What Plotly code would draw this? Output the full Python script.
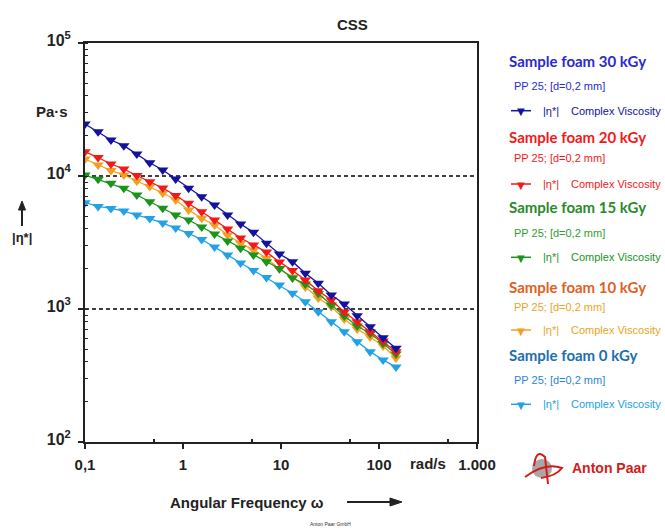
import plotly.graph_objects as go

# ---------------- data ----------------
freq = [0.1, 0.136, 0.184, 0.249, 0.338, 0.458, 0.621, 0.842, 1.14, 1.55,
        2.1, 2.85, 3.87, 5.24, 7.11, 9.64, 13.1, 17.7, 24.0, 32.6,
        44.2, 59.9, 81.3, 110, 149]

eta_30 = [24600, 21500, 18660, 16900, 14630, 12590, 11090, 9490, 8080, 6990,
          6050, 5090, 4350, 3770, 3120, 2590, 2270, 1855, 1560, 1275,
          1090, 891, 736, 609, 507]
eta_20 = [15230, 13780, 12310, 11290, 10090, 9060, 8120, 7140, 6230, 5390,
          4670, 4000, 3420, 3030, 2680, 2260, 1950, 1650, 1370, 1170,
          949, 803, 675, 575, 478]
eta_15 = [10170, 9440, 8810, 8080, 7200, 6410, 5720, 5090, 4670, 4135,
          3660, 3245, 2860, 2550, 2270, 2016, 1710, 1540, 1308, 1072,
          886, 745, 655, 550, 459]
eta_10 = [13420, 12100, 11000, 10170, 9170, 8340, 7450, 6600, 5550, 4810,
          4280, 3600, 3120, 2780, 2405, 2000, 1740, 1464, 1210, 1041,
          841, 707, 616, 527, 428]
eta_0 = [6300, 5900, 5700, 5455, 5090, 4790, 4430, 4060, 3700, 3330,
         2925, 2550, 2218, 1950, 1725, 1515, 1312, 1135, 954, 803,
         675, 568, 478, 414, 366]

series_names = ["Sample foam 30 kGy", "Sample foam 20 kGy", "Sample foam 15 kGy",
                "Sample foam 10 kGy", "Sample foam 0 kGy"]
series_values = [eta_30, eta_20, eta_15, eta_10, eta_0]
series_sub = "PP 25; [d=0,2 mm]"
series_sym = "|\u03b7*|"
series_meas = "Complex Viscosity"

x_tickvals = [0.1, 1, 10, 100, 1000]
x_ticktext = ["0,1", "1", "10", "100", "1.000"]
x_minorvals = [0.5, 5, 50, 500]
y_tickvals = [100, 1000, 10000, 100000]
y_ticktext = ["10<sup>2</sup>", "10<sup>3</sup>", "10<sup>4</sup>", "10<sup>5</sup>"]
dashed_levels = [1000, 10000]

# ---------------- styles ----------------
marker_colors = ["#12129e", "#f51818", "#1a941a", "#f0a020", "#22a2e6"]
title_colors = ["#2a2ad2", "#f51818", "#2a8a2a", "#e2601e", "#1c6eb0"]
sub_colors = ["#2a2ad2", "#f51818", "#2ea02e", "#eaa424", "#2a86d6"]

W, H = 665, 530
L, R, T, B = 85, 188, 43, 88
PW, PH = W - L - R, H - T - B


def px(x):
    return (x - L) / PW


def py(y):
    return (H - B - y) / PH


def text_ann(x, y, text, size, color, family="Liberation Sans", xanchor="center"):
    return dict(x=px(x), y=py(y), xref="paper", yref="paper", text=text, showarrow=False,
                xanchor=xanchor, yanchor="middle",
                font=dict(family=family, size=size, color=color))


def poly(points, color):
    path = "M " + " L ".join(f"{px(a)},{py(b)}" for a, b in points) + " Z"
    return dict(type="path", xref="paper", yref="paper", path=path,
                fillcolor=color, line=dict(color=color, width=1))


def seg(x0, y0, x1, y1, color, width):
    return dict(type="line", xref="paper", yref="paper", x0=px(x0), y0=py(y0),
                x1=px(x1), y1=py(y1), line=dict(color=color, width=width))


fig = go.Figure()

for lev in dashed_levels:
    fig.add_trace(go.Scatter(x=[x_tickvals[0], x_tickvals[-1]], y=[lev, lev], mode="lines",
                             line=dict(color="black", width=1.5, dash="4px,3px"),
                             showlegend=False, hoverinfo="skip"))

for name, vals, col in reversed(list(zip(series_names, series_values, marker_colors))):
    fig.add_trace(go.Scatter(x=freq, y=vals, mode="lines+markers", name=name,
                             line=dict(color=col, width=1.3),
                             marker=dict(symbol="triangle-down", size=10, color=col,
                                         line=dict(width=0)),
                             showlegend=False))

ann = []
shapes = []
legend_rows = [(60.7, 86, 110.7), (136.7, 158.3, 184), (206.7, 233.3, 257.3),
               (286.7, 307.3, 330), (355, 380, 404.3)]
for (ty, sy, my), name, tc, sc, mc in zip(legend_rows, series_names, title_colors,
                                           sub_colors, marker_colors):
    tcol = "#eaa424" if mc == "#f0a020" else mc
    ann.append(text_ann(507, ty, "<b>" + name + "</b>", 15, tc, "Lato", "left"))
    ann.append(text_ann(512, sy, series_sub, 11, sc, "Liberation Sans", "left"))
    ann.append(text_ann(541, my, series_sym, 11, tcol, "Liberation Sans", "left"))
    ann.append(text_ann(569, my, series_meas, 11, tcol, "Liberation Sans", "left"))
    shapes.append(seg(511, my, 531, my, mc, 1.5))
    ann.append(text_ann(521, my + 1, "\u25bc", 10, mc, "DejaVu Sans"))

ann.append(text_ann(352, 25, "<b>CSS</b>", 15, "#222"))
ann.append(text_ann(52, 111, "<b>Pa\u00b7s</b>", 15, "#222"))
ann.append(text_ann(22, 237, "<b>|\u03b7*|</b>", 13, "#222"))
# upward arrow next to |eta*|
shapes.append(seg(22, 226, 22, 208, "#222", 2))
shapes.append(poly([(22, 201), (18.5, 210), (25.5, 210)], "#222"))
ann.append(text_ann(428, 463, "<b>rad/s</b>", 15, "#222"))
ann.append(text_ann(247, 502, "<b>Angular Frequency \u03c9</b>", 15, "#222"))
# rightward arrow after axis title
shapes.append(seg(347, 502, 392, 502, "#222", 2))
shapes.append(poly([(402, 502), (390, 498), (390, 506)], "#222"))
ann.append(text_ann(330, 524, "Anton Paar GmbH", 5, "#333"))
ann.append(text_ann(570, 468, "<b>Anton Paar</b>", 14, "#d51a1a", "Liberation Sans", "left"))
shapes.append(dict(type="circle", xref="paper", yref="paper", x0=px(532), x1=px(552),
                   y0=py(478), y1=py(459), fillcolor="#a8a8a8", line=dict(width=0)))
shapes.append(dict(type="path", xref="paper", yref="paper",
                   path=f"M {px(525)},{py(477)} Q {px(545)},{py(462)} {px(562)},{py(468)} "
                        f"Q {px(556)},{py(476)} {px(541)},{py(478)}",
                   line=dict(color="#d51a1a", width=2)))
shapes.append(dict(type="path", xref="paper", yref="paper",
                   path=f"M {px(534)},{py(466)} Q {px(536)},{py(448)} {px(545)},{py(457)} "
                        f"L {px(548)},{py(484)}",
                   line=dict(color="#d51a1a", width=2)))

fig.update_layout(
    width=W, height=H,
    margin=dict(l=L, r=R, t=T, b=B),
    paper_bgcolor="white", plot_bgcolor="white",
    annotations=ann, shapes=shapes, showlegend=False,
    xaxis=dict(type="log", range=[-1, 3], showgrid=False, zeroline=False,
               showline=True, linecolor="#222", linewidth=2, mirror=True,
               tickvals=x_tickvals, ticktext=["<b>" + t + "</b>" for t in x_ticktext],
               ticks="outside", ticklen=5, tickwidth=1.5, tickcolor="#222",
               tickfont=dict(family="Liberation Sans", size=15, color="#222"),
               ticklabelstandoff=3,
               minor=dict(tickvals=x_minorvals, ticks="inside", ticklen=3,
                          tickwidth=1.5, tickcolor="#222", showgrid=False)),
    yaxis=dict(type="log", range=[2, 5], showgrid=False, zeroline=False,
               showline=True, linecolor="#222", linewidth=2, mirror=True,
               tickvals=y_tickvals, ticktext=["<b>" + t + "</b>" for t in y_ticktext],
               ticks="outside", ticklen=5, tickwidth=1.5, tickcolor="#222",
               tickfont=dict(family="Liberation Sans", size=16, color="#222"),
               ticklabelstandoff=4, ticklabelshift=-3,
               minor=dict(dtick="D1", ticks="inside", ticklen=3, tickwidth=1.2,
                          tickcolor="#222", showgrid=False)),
)

fig.write_html("out.html", config={"displayModeBar": False},
               post_script="document.body.style.margin='0px';document.body.style.overflow='hidden';")
